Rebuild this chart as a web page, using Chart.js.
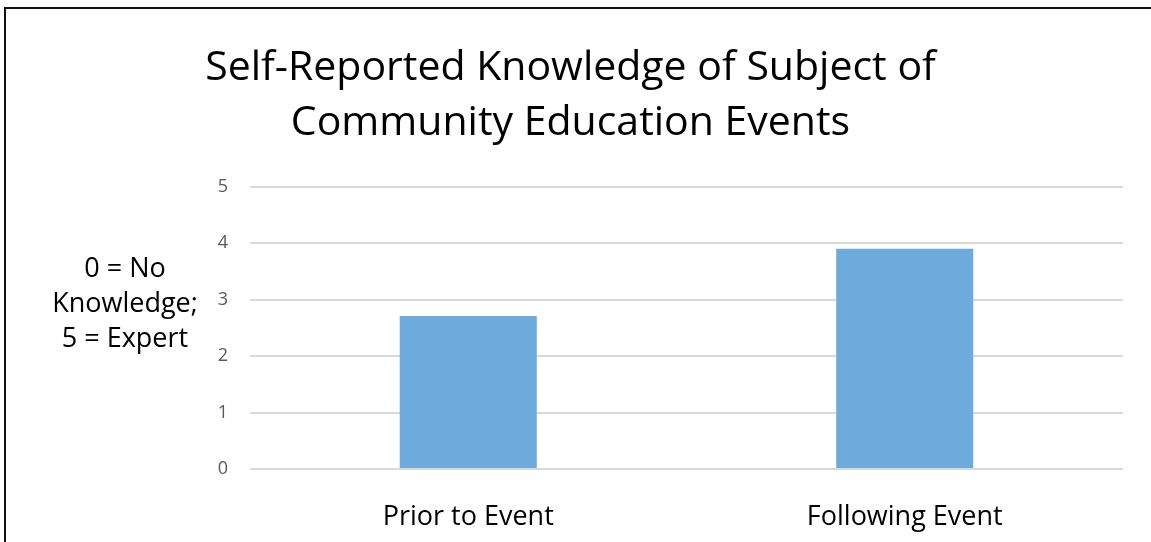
<!DOCTYPE html>
<html>
<head>
<meta charset="utf-8">
<script src="https://cdn.jsdelivr.net/npm/chart.js@4/dist/chart.umd.min.js"></script>
<style>
  html, body { margin: 0; padding: 0; background: #fff; }
  #wrap { position: relative; width: 1151px; height: 542px; }
  #frame {
    position: absolute; left: 4px; top: 7px; right: 0; bottom: 0;
    border-top: 2px solid #111; border-left: 2px solid #111;
    pointer-events: none;
  }
</style>
</head>
<body>
<div id="wrap">
  <canvas id="knowledgeChart" width="1151" height="542"></canvas>
  <div id="frame"></div>
</div>
<script>
// Self-reported knowledge, before and after the events
const categories = ["Prior to Event", "Following Event"];
const knowledgeScores = [2.71, 3.9];
const yTicks = [0, 1, 2, 3, 4, 5];

const chartTitle = ["Self-Reported Knowledge of Subject of", "Community Education Events"];
const yAxisLines = ["0 = No", "Knowledge;", "5 = Expert"];

const fontFamily = "'Open Sans', 'Noto Sans', sans-serif";

// horizontal y axis title, like the original
const yTitlePlugin = {
  id: "yTitle",
  afterDraw(chart) {
    const ctx = chart.ctx;
    ctx.save();
    ctx.font = "27px " + fontFamily;
    ctx.fillStyle = "#000";
    ctx.textAlign = "center";
    ctx.textBaseline = "middle";
    yAxisLines.forEach((line, i) => {
      ctx.fillText(line, 125, 269 + i * 35);
    });
    ctx.restore();
  },
};

const ctx = document.getElementById("knowledgeChart").getContext("2d");
new Chart(ctx, {
  type: "bar",
  data: {
    labels: categories,
    datasets: [
      {
        label: "Knowledge",
        data: knowledgeScores,
        backgroundColor: "#6CABDC",
        borderWidth: 0,
        categoryPercentage: 1,
        barPercentage: 0.314,
      },
    ],
  },
  options: {
    responsive: false,
    animation: false,
    layout: { padding: { left: 18, right: 28, top: 0, bottom: 0 } },
    plugins: {
      legend: { display: false },
      tooltip: { enabled: false },
      title: {
        display: true,
        text: chartTitle,
        color: "#000",
        font: { family: fontFamily, size: 41, weight: "normal", lineHeight: 1.36 },
        padding: { top: 40, bottom: 35 },
      },
    },
    scales: {
      x: {
        grid: { display: false, drawTicks: false },
        border: { display: false },
        ticks: { color: "#000", font: { family: fontFamily, size: 27 }, padding: 32 },
        afterFit: (scale) => { scale.height = 73; },
      },
      y: {
        min: 0,
        max: 5,
        afterBuildTicks: (scale) => { scale.ticks = yTicks.map((v) => ({ value: v })); },
        grid: { color: "#D9D9D9", lineWidth: 2, drawTicks: false },
        border: { display: false },
        ticks: { color: "#595959", font: { family: fontFamily, size: 18 }, padding: 22 },
        afterFit: (scale) => { scale.width = 232; },
      },
    },
  },
  plugins: [yTitlePlugin],
});
</script>
</body>
</html>
